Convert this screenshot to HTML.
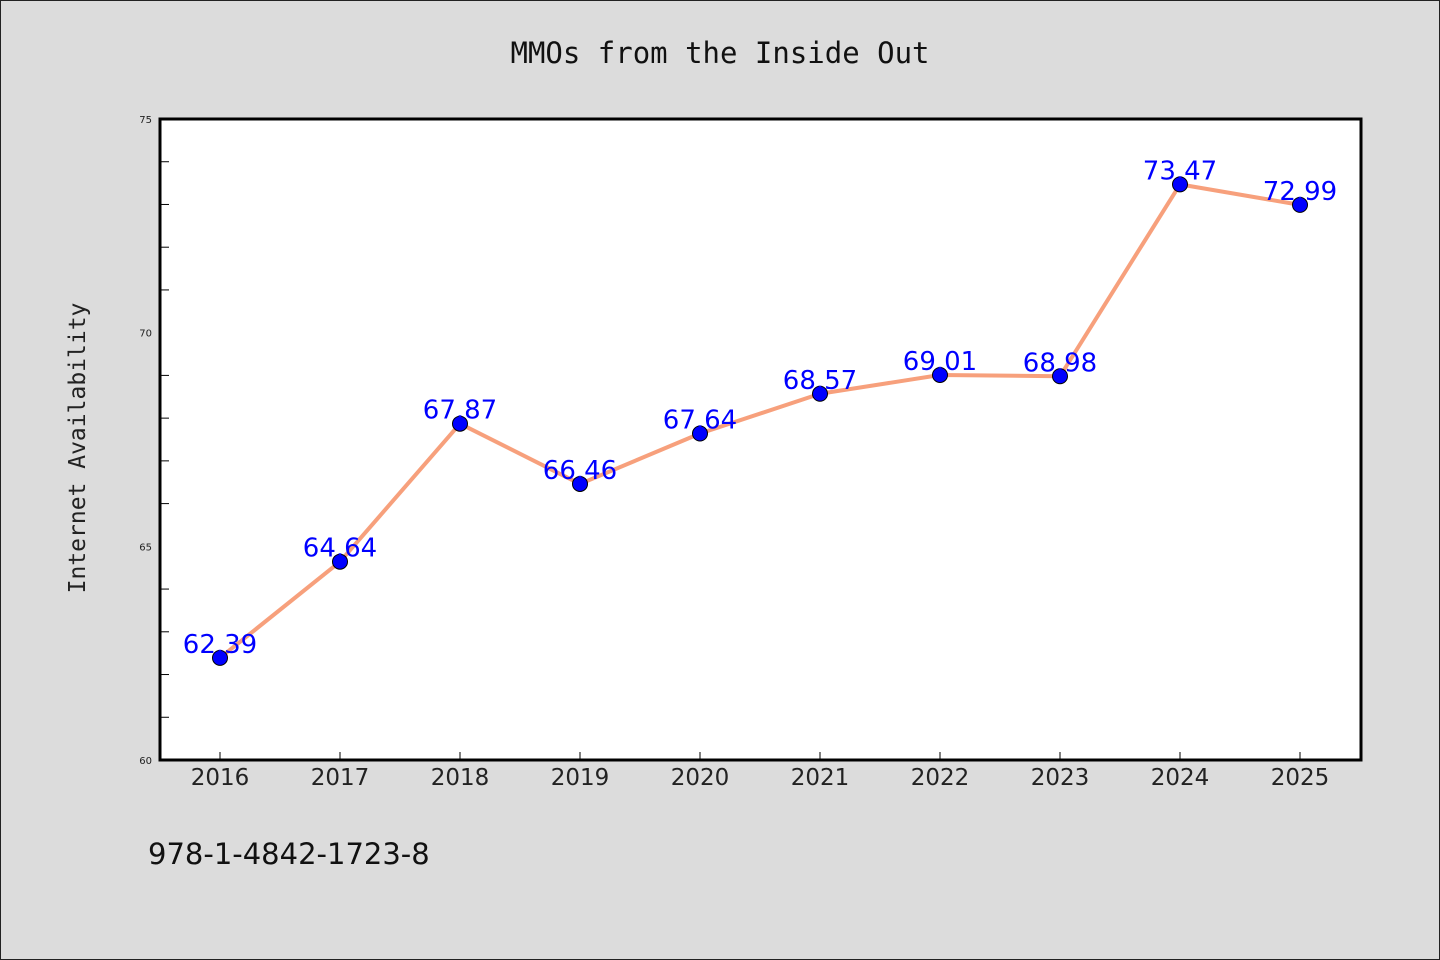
<!DOCTYPE html>
<html><head><meta charset="utf-8"><style>
body{margin:0;background:#dcdcdc;}
svg{display:block;font-family:"DejaVu Sans","Liberation Sans",sans-serif;}
</style></head><body>
<svg width="1440" height="960">
<rect x="0.5" y="0.5" width="1439" height="959" fill="#dcdcdc" stroke="#222"/>
<text x="720" y="63" text-anchor="middle" font-family="DejaVu Sans Mono,Liberation Mono,monospace" font-size="29" fill="#111">MMOs from the Inside Out</text>
<rect x="160" y="119" width="1201" height="641" fill="#fff"/>
<g id="ticks"></g>
<g id="series"></g>
<rect x="160" y="119" width="1201" height="641" fill="none" stroke="#000" stroke-width="3"/>
<text transform="translate(85,448) rotate(-90)" text-anchor="middle" font-family="DejaVu Sans Mono,Liberation Mono,monospace" font-size="23" fill="#222">Internet Availability</text>
<text x="148" y="864" font-size="29" fill="#111">978-1-4842-1723-8</text>
</svg>
<script>
const categories=["2016","2017","2018","2019","2020","2021","2022","2023","2024","2025"];
const values=[62.39,64.64,67.87,66.46,67.64,68.57,69.01,68.98,73.47,72.99];
const yTicks=[60,65,70,75];
const NS="http://www.w3.org/2000/svg";
const x=i=>220+i*120;
const y=v=>760-(v-60)*(641/15);
function mk(t,a,p){const e=document.createElementNS(NS,t);for(const k in a)e.setAttribute(k,a[k]);p.appendChild(e);return e;}
const tg=document.getElementById('ticks'),sg=document.getElementById('series');
for(let v=61;v<75;v++){if(v%5===0)continue;
const l=mk('line',{x1:160,x2:169,y1:y(v),y2:y(v),stroke:'#000','stroke-width':1},tg);

}
yTicks.forEach(v=>{const t=mk('text',{x:152,y:y(v)+4,'text-anchor':'end','font-size':10,fill:'#222'},tg);t.textContent=v;

});
categories.forEach((c,i)=>{const l=mk('line',{x1:x(i),x2:x(i),y1:760,y2:752,stroke:'#000','stroke-width':1},tg);


const t=mk('text',{x:x(i),y:785,'text-anchor':'middle','font-size':23,fill:'#222'},tg);t.textContent=c;

});
const line=mk('polyline',{points:values.map((v,i)=>x(i)+','+y(v)).join(' '),fill:'none',stroke:'#f7a07c','stroke-width':4,'stroke-linejoin':'round'},sg);


values.forEach((v,i)=>{const c=mk('circle',{cx:x(i),cy:y(v),r:7.5,fill:'#0000ff',stroke:'#000','stroke-width':1},sg);


const t=mk('text',{x:x(i),y:y(v)-5,'text-anchor':'middle','font-size':26,fill:'#0000ff'},sg);t.textContent=v.toFixed(2);

});
</script>
</body></html>
